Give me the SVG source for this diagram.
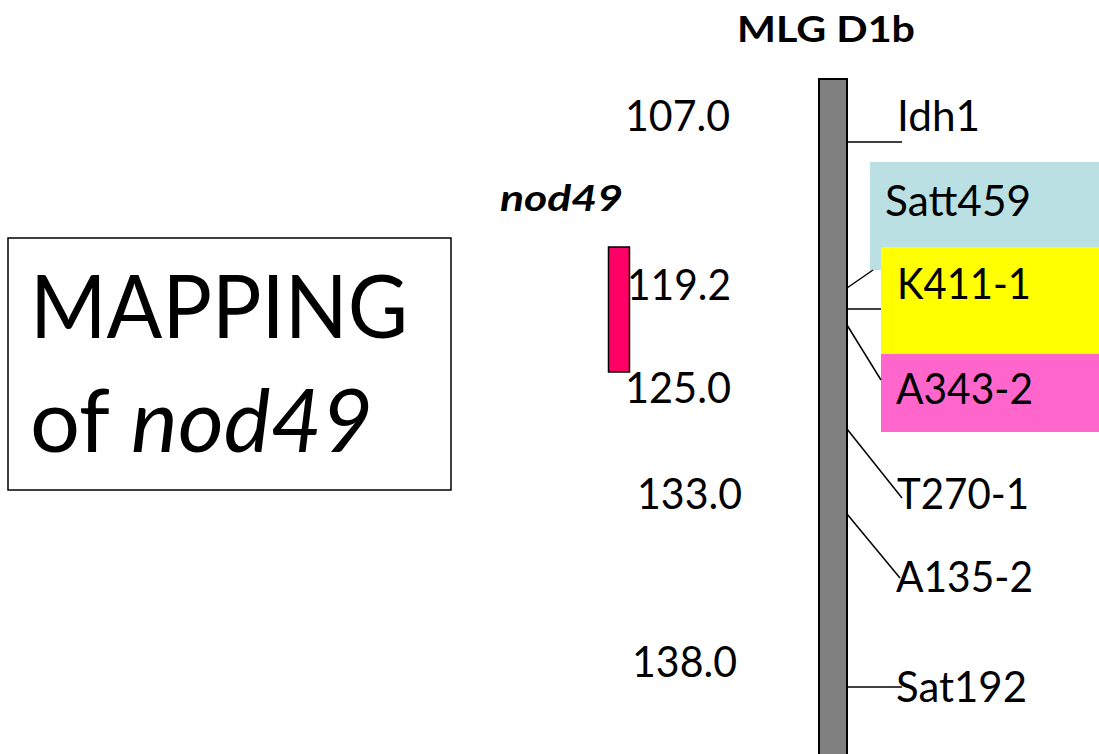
<svg xmlns="http://www.w3.org/2000/svg" width="1099" height="754" viewBox="0 0 1099 754">
<style>
text{font-family:Lato,"Open Sans","Liberation Sans",sans-serif;fill:#000}
.lbl{font-size:42px}
.num{font-size:42px}
.ln{stroke:#000;stroke-width:1.5;fill:none}
</style>
<rect width="1099" height="754" fill="#fff"/>
<g id="title"><text x="737" y="42" font-size="36" font-weight="bold" textLength="178" lengthAdjust="spacingAndGlyphs">MLG D1b</text></g>
<g id="mapping-box">
<rect x="8" y="238" width="443" height="252" fill="#fff" stroke="#000" stroke-width="1.5"/>
<text x="30" y="338" font-size="88" textLength="378" lengthAdjust="spacingAndGlyphs">MAPPING</text>
<text x="30" y="452" font-size="88" textLength="343" lengthAdjust="spacingAndGlyphs">of <tspan font-style="italic">nod49</tspan></text>
</g>
<g id="nod49">
<text x="500" y="211" font-size="36" font-weight="bold" font-style="italic" textLength="123" lengthAdjust="spacingAndGlyphs">nod49</text>
<rect x="608.5" y="247" width="21" height="125" fill="#FF0066" stroke="#000" stroke-width="1.5"/>
</g>
<g id="positions">
<text class="num" x="625" y="131" textLength="105" lengthAdjust="spacingAndGlyphs">107.0</text>
<text class="num" x="627" y="300" textLength="104" lengthAdjust="spacingAndGlyphs">119.2</text>
<text class="num" x="625" y="403" textLength="106" lengthAdjust="spacingAndGlyphs">125.0</text>
<text class="num" x="637" y="509" textLength="105" lengthAdjust="spacingAndGlyphs">133.0</text>
<text class="num" x="632" y="677" textLength="105" lengthAdjust="spacingAndGlyphs">138.0</text>
</g>
<g id="chromosome"><rect x="819" y="79" width="28" height="690" fill="#808080" stroke="#000" stroke-width="2"/></g>
<g id="satt459"><rect x="870" y="162" width="229" height="108" fill="#BBE0E3"/><text class="lbl" x="885" y="216" textLength="146" lengthAdjust="spacingAndGlyphs">Satt459</text></g>
<g id="k411-1"><rect x="881" y="247" width="218" height="107" fill="#FFFF00"/><text class="lbl" x="897" y="299" textLength="134" lengthAdjust="spacingAndGlyphs">K411-1</text></g>
<g id="a343-2"><rect x="881" y="354" width="218" height="78" fill="#FF66CC"/><text class="lbl" x="896" y="404" textLength="137" lengthAdjust="spacingAndGlyphs">A343-2</text></g>
<g id="idh1"><text class="lbl" x="897" y="131" textLength="83" lengthAdjust="spacingAndGlyphs">Idh1</text></g>
<g id="t270-1"><text class="lbl" x="897" y="509" textLength="132" lengthAdjust="spacingAndGlyphs">T270-1</text></g>
<g id="a135-2"><text class="lbl" x="896" y="592" textLength="137" lengthAdjust="spacingAndGlyphs">A135-2</text></g>
<g id="sat192"><text class="lbl" x="896" y="702" textLength="131" lengthAdjust="spacingAndGlyphs">Sat192</text></g>
<g id="connectors">
<line class="ln" x1="847" y1="142" x2="902" y2="142"/>
<line class="ln" x1="847" y1="288" x2="873" y2="270"/>
<line class="ln" x1="847" y1="309" x2="881" y2="309"/>
<line class="ln" x1="847" y1="325" x2="881" y2="380"/>
<line class="ln" x1="847" y1="429" x2="902" y2="498"/>
<line class="ln" x1="847" y1="514" x2="900" y2="578"/>
<line class="ln" x1="847" y1="687" x2="902" y2="687"/>
</g>
</svg>
